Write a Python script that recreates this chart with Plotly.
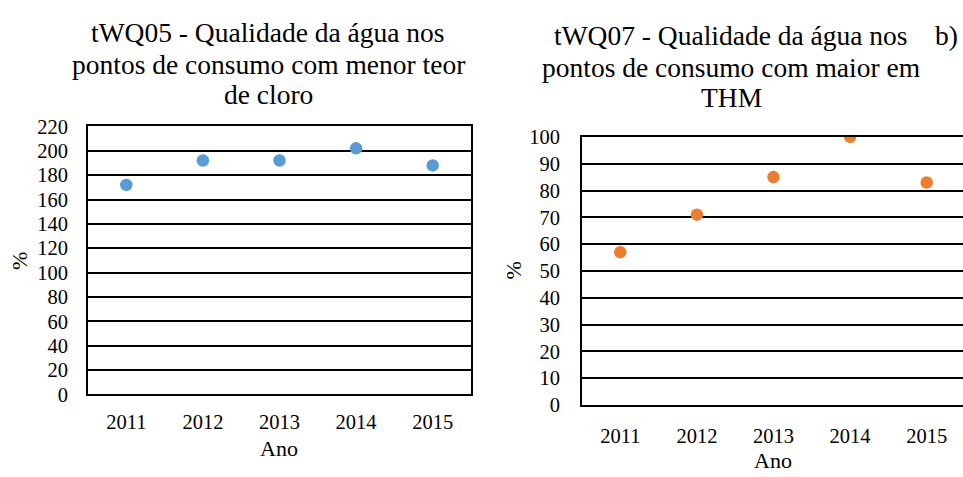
import plotly.graph_objects as go

# ---- data ----
years = ["2011", "2012", "2013", "2014", "2015"]
twq05_values = [172, 192, 192, 202, 188]
twq07_values = [57, 71, 85, 100, 83]
title_left_lines = ["tWQ05 - Qualidade da água nos", "pontos de consumo com menor teor", "de cloro"]
title_right_lines = ["tWQ07 - Qualidade da água nos", "pontos de consumo com maior em", "THM"]
x_title = "Ano"
y_title = "%"
panel_label = "b)"

W, H = 963, 477
FONT = "Liberation Serif"
BLUE = "#5B9BD5"
ORANGE = "#ED7D31"


def px_x(p):
    return p / W


def px_y(p):
    return 1 - p / H


fig = go.Figure()
fig.add_trace(go.Scatter(x=years, y=twq05_values, mode="markers",
                         marker=dict(color=BLUE, size=12.5),
                         xaxis="x", yaxis="y", showlegend=False))
fig.add_trace(go.Scatter(x=years, y=twq07_values, mode="markers",
                         marker=dict(color=ORANGE, size=12.5),
                         xaxis="x2", yaxis="y2", showlegend=False))

tickfont = dict(family=FONT, size=20.5, color="black")
common_y = dict(showgrid=True, gridcolor="black", gridwidth=2, zeroline=False,
                showline=True, linecolor="black", linewidth=2, ticks="",
                tickfont=tickfont)
common_x = dict(type="category", showgrid=False, zeroline=False, showline=True,
                linecolor="black", linewidth=2, ticks="", tickfont=tickfont)

fig.update_layout(
    width=W, height=H,
    margin=dict(l=0, r=0, t=0, b=0),
    paper_bgcolor="white", plot_bgcolor="white",
    font=dict(family=FONT, color="black"),
    xaxis=dict(domain=[px_x(88), px_x(471)], anchor="y", mirror=True,
               range=[-0.5, 4.5], ticklabelstandoff=8, **common_x),
    yaxis=dict(domain=[px_y(402), px_y(121)], anchor="x", mirror=True,
               range=[0, 220], dtick=20, ticklabelstandoff=14, **common_y),
    xaxis2=dict(domain=[px_x(582), 1.0], anchor="y2", mirror=True,
                range=[-0.5, -0.5 + 381 / 76.6], ticklabelstandoff=11, **common_x),
    yaxis2=dict(domain=[px_y(413), px_y(132)], anchor="x2", mirror=False,
                range=[0, 100], dtick=10, ticklabelstandoff=16, **common_y),
)

ann = []
title_font = dict(family=FONT, size=27.5, color="black")
for line, yc in zip(title_left_lines, [23, 56, 88]):
    ann.append(dict(text=line, x=px_x(268), y=px_y(yc), xref="paper", yref="paper",
                    xanchor="center", yanchor="middle", showarrow=False, font=title_font))
for line, yc in zip(title_right_lines, [26, 59, 91]):
    ann.append(dict(text=line, x=px_x(731), y=px_y(yc), xref="paper", yref="paper",
                    xanchor="center", yanchor="middle", showarrow=False, font=title_font))
ann.append(dict(text=panel_label, x=px_x(933), y=px_y(26), xref="paper", yref="paper",
                xanchor="left", yanchor="middle", showarrow=False, font=title_font))

axis_title_font = dict(family=FONT, size=22, color="black")
ann.append(dict(text=x_title, x=px_x(279), y=px_y(459), xref="paper", yref="paper",
                xanchor="center", yanchor="middle", showarrow=False, font=axis_title_font))
ann.append(dict(text=x_title, x=px_x(773), y=px_y(471), xref="paper", yref="paper",
                xanchor="center", yanchor="middle", showarrow=False, font=axis_title_font))
ann.append(dict(text=y_title, x=px_x(20), y=px_y(262), xref="paper", yref="paper",
                xanchor="center", yanchor="middle", showarrow=False, textangle=-90,
                font=axis_title_font))
ann.append(dict(text=y_title, x=px_x(513), y=px_y(272), xref="paper", yref="paper",
                xanchor="center", yanchor="middle", showarrow=False, textangle=-90,
                font=axis_title_font))
fig.update_layout(annotations=ann)

post_js = (
    "document.documentElement.style.margin='0px';"
    "document.body.style.margin='0px';"
    "document.body.style.overflow='hidden';"
    "var gd=document.getElementsByClassName('plotly-graph-div')[0];"
    "gd.style.position='fixed';gd.style.left='0px';gd.style.top='0px';"
)

fig.write_html("out.html", config={"displayModeBar": False}, post_script=post_js)
